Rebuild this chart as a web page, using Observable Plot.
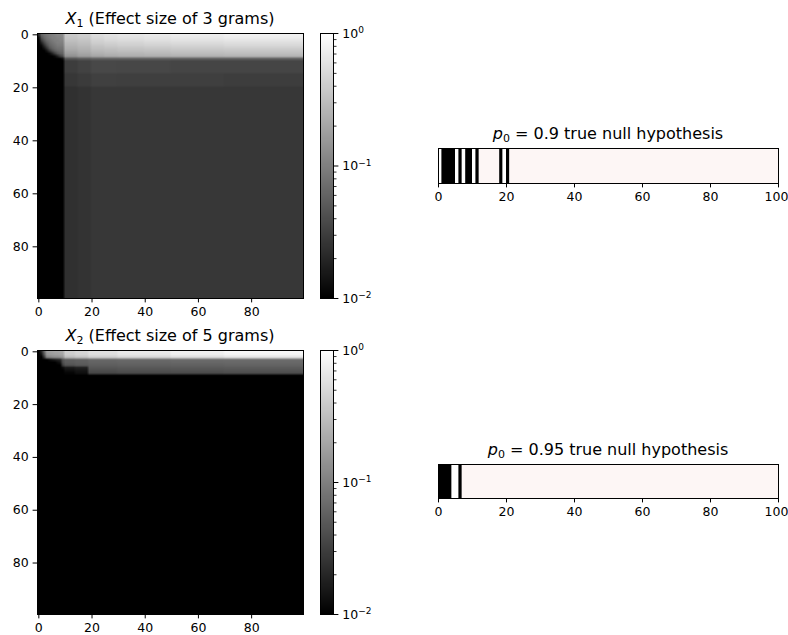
<!DOCTYPE html>
<html><head><meta charset="utf-8">
<script src="https://cdn.jsdelivr.net/npm/d3@7"></script>
<script src="https://cdn.jsdelivr.net/npm/@observablehq/plot@0.6"></script>
<style>
body{margin:0;background:#fff;font-family:"DejaVu Sans",sans-serif;}
#root{position:relative;width:788px;height:635px;overflow:hidden;background:#fff}
.panel{position:absolute}
.panel svg{display:block}
.title{position:absolute;font-size:16px;text-align:center;white-space:nowrap;line-height:16px;color:#000;font-family:"DejaVu Sans",sans-serif}
.title i{font-style:italic}
.title sub{font-size:11px;vertical-align:-3px;line-height:0}
</style></head><body><div id="root"></div>
<script>
// ---------- DATA ----------
const heatTicks = [0, 20, 40, 60, 80];
const stripTicks = [0, 20, 40, 60, 80, 100];
const cbMajor = [0.01, 0.1, 1];
const cbMajorLabels = ["10^\u22122", "10^\u22121", "10^0"];
const cbMinor = [0.02,0.03,0.04,0.05,0.06,0.07,0.08,0.09,0.2,0.3,0.4,0.5,0.6,0.7,0.8,0.9];

// X1 heatmap: row bands x column bands of values (band i spans edges[i]..edges[i+1]-1)
const x1RowEdges = [0,1,2,3,4,5,6,7,8,9,10,15,20,100];
const x1ColEdges = [0,1,2,3,4,5,6,7,8,9,10,15,20,25,30,40,50,70,100];
const x1Values = [
  [0.020,0.060,0.075,0.085,0.095,0.10,0.11,0.12,0.12,0.13, 0.38,0.42,0.55,0.60,0.64,0.68,0.72,0.78],
  [0.012,0.045,0.065,0.080,0.090,0.10,0.10,0.11,0.11,0.12, 0.35,0.39,0.50,0.55,0.59,0.63,0.67,0.72],
  [0.010,0.030,0.050,0.070,0.080,0.09,0.10,0.10,0.11,0.11, 0.32,0.35,0.45,0.50,0.53,0.57,0.60,0.64],
  [0.010,0.018,0.035,0.055,0.070,0.08,0.09,0.10,0.10,0.10, 0.29,0.32,0.41,0.44,0.47,0.50,0.53,0.56],
  [0.010,0.012,0.022,0.040,0.060,0.07,0.08,0.09,0.09,0.09, 0.26,0.29,0.36,0.39,0.42,0.44,0.46,0.49],
  [0.010,0.010,0.014,0.025,0.045,0.06,0.07,0.08,0.08,0.08, 0.23,0.26,0.32,0.34,0.36,0.38,0.40,0.42],
  [0.010,0.010,0.010,0.014,0.025,0.04,0.055,0.065,0.07,0.07, 0.20,0.23,0.28,0.30,0.32,0.33,0.35,0.36],
  [0.010,0.010,0.010,0.010,0.012,0.018,0.030,0.045,0.055,0.06, 0.17,0.20,0.24,0.26,0.27,0.28,0.30,0.31],
  [0.010,0.010,0.010,0.010,0.010,0.010,0.012,0.018,0.030,0.04, 0.14,0.17,0.20,0.22,0.23,0.24,0.25,0.26],
  [0.010,0.010,0.010,0.010,0.010,0.010,0.010,0.010,0.010,0.012, 0.045,0.05,0.055,0.055,0.055,0.055,0.055,0.055],
  [0.010,0.010,0.010,0.010,0.010,0.010,0.010,0.010,0.010,0.010, 0.030,0.033,0.037,0.037,0.036,0.036,0.035,0.035],
  [0.010,0.010,0.010,0.010,0.010,0.010,0.010,0.010,0.010,0.010, 0.027,0.029,0.032,0.032,0.031,0.031,0.031,0.030],
  [0.010,0.010,0.010,0.010,0.010,0.010,0.010,0.010,0.010,0.010, 0.024,0.025,0.027,0.027,0.027,0.027,0.027,0.027]
];

// X2 heatmap
const x2RowEdges = [0,1,2,3,4,5,6,7,8,9,100];
const x2ColEdges = [0,1,2,3,4,5,6,7,8,9,10,14,19,30,50,70,100];
const x2Values = [
  [0.010,0.020,0.060,0.17,0.18,0.19,0.20,0.20,0.21,0.22, 0.42,0.48,0.58,0.68,0.78,0.88],
  [0.010,0.014,0.045,0.15,0.16,0.17,0.18,0.18,0.19,0.20, 0.40,0.45,0.55,0.64,0.73,0.82],
  [0.010,0.010,0.025,0.10,0.11,0.12,0.13,0.13,0.14,0.15, 0.30,0.34,0.42,0.48,0.54,0.60],
  [0.010,0.010,0.010,0.010,0.012,0.014,0.016,0.018,0.020,0.045, 0.055,0.058,0.065,0.068,0.070,0.072],
  [0.010,0.010,0.010,0.010,0.010,0.010,0.010,0.012,0.014,0.040, 0.052,0.055,0.060,0.062,0.064,0.066],
  [0.010,0.010,0.010,0.010,0.010,0.010,0.010,0.010,0.010,0.030, 0.045,0.050,0.055,0.057,0.058,0.060],
  [0.010,0.010,0.010,0.010,0.010,0.010,0.010,0.010,0.010,0.012, 0.016,0.018,0.048,0.050,0.051,0.052],
  [0.010,0.010,0.010,0.010,0.010,0.010,0.010,0.010,0.010,0.010, 0.013,0.015,0.042,0.044,0.045,0.046],
  [0.010,0.010,0.010,0.010,0.010,0.010,0.010,0.010,0.010,0.010, 0.011,0.013,0.036,0.038,0.039,0.040],
  [0.010,0.010,0.010,0.010,0.010,0.010,0.010,0.010,0.010,0.010, 0.010,0.010,0.010,0.010,0.010,0.010]
];

// Hypothesis strips (100 hypotheses): indices of non-null (black) and white cells; rest are null
const stripCount = 100;
const strip1Black = [1,2,3,4,6,8,9,11,18,20];
const strip1White = [0,5,7,10,19];
const strip2Black = [0,1,2,3,6];
const strip2White = [4,5];
const stripClasses = ["non-null", "gap", "null"];
const stripColors = ["#000000", "#ffffff", "#fdf6f5"];

// ---------- DRAW ----------
const root = document.getElementById("root");
const TS = 4.4, TP = 4.4;
const fontStyle = {fontFamily: "DejaVu Sans, sans-serif", fontSize: "12.5px", color: "#000", background: "transparent", overflow: "visible"};
const colorOpts = {type: "log", domain: [0.01, 1], range: ["#000000", "#ffffff"], interpolate: "rgb", clamp: true};

function place(node, left, top) {
  const d = document.createElement("div");
  d.className = "panel"; d.style.left = left + "px"; d.style.top = top + "px";
  d.appendChild(node); root.appendChild(d);
}
function title(html, left, width, top) {
  const d = document.createElement("div");
  d.className = "title"; d.style.left = left + "px"; d.style.width = width + "px"; d.style.top = top + "px";
  d.innerHTML = html; root.appendChild(d);
}
// turn "10^e" tick labels into a base with a raised exponent
function superscripts(svg) {
  svg.querySelectorAll("text").forEach(t => {
    const m = /^10\^(.+)$/.exec(t.textContent);
    if (!m) return;
    t.textContent = "10";
    const ts = document.createElementNS("http://www.w3.org/2000/svg", "tspan");
    ts.setAttribute("dy", "-0.45em");
    ts.setAttribute("font-size", "0.72em");
    ts.textContent = m[1];
    t.appendChild(ts);
  });
  return svg;
}

function expandGrid(rowEdges, colEdges, values) {
  const cells = [];
  values.forEach((row, i) => {
    for (let r = rowEdges[i]; r < rowEdges[i + 1]; ++r)
      row.forEach((v, j) => {
        for (let c = colEdges[j]; c < colEdges[j + 1]; ++c) cells.push({r, c, v});
      });
  });
  return cells;
}

function heatmap(rowEdges, colEdges, values, fh) {
  const cells = expandGrid(rowEdges, colEdges, values);
  return Plot.plot({
    width: 37 + 266 + 5, height: 33 + fh + 22,
    marginLeft: 37, marginRight: 5, marginTop: 33, marginBottom: 22,
    style: fontStyle,
    x: {domain: [-0.5, 99.5], axis: null},
    y: {domain: [-0.5, 99.5], reverse: true, axis: null},
    color: colorOpts,
    marks: [
      Plot.raster(cells, {x: "c", y: "r", fill: "v", width: 100, height: 100, x1: -0.5, x2: 99.5, y1: -0.5, y2: 99.5, imageRendering: "auto"}),
      Plot.frame({stroke: "#000", strokeWidth: 1}),
      Plot.axisX({ticks: heatTicks, tickSize: TS, tickPadding: TP, strokeWidth: 1, label: null, tickFormat: d => String(d)}),
      Plot.axisY({ticks: heatTicks, tickSize: TS, tickPadding: TP, strokeWidth: 1, label: null, tickFormat: d => String(d)})
    ]
  });
}

function colorbar(fh) {
  return superscripts(Plot.plot({
    width: 13 + 50, height: 33 + fh + 22,
    marginLeft: 0, marginRight: 50, marginTop: 33, marginBottom: 22,
    style: fontStyle,
    x: {domain: [0, 1], axis: null},
    y: {domain: [-2, 0], axis: null},
    color: colorOpts,
    marks: [
      Plot.raster({fill: (x, y) => Math.pow(10, y), x1: 0, x2: 1, y1: -2, y2: 0, pixelSize: 1, imageRendering: "auto"}),
      Plot.frame({stroke: "#000", strokeWidth: 1}),
      Plot.axisY({anchor: "right", ticks: cbMajor.map(Math.log10), tickSize: TS, tickPadding: TP, strokeWidth: 1, label: null,
        tickFormat: d => cbMajorLabels[cbMajor.findIndex(m => Math.abs(Math.log10(m) - d) < 1e-9)]}),
      Plot.axisY({anchor: "right", ticks: cbMinor.map(Math.log10), tickSize: 2.5, strokeWidth: 0.8, label: null, tickFormat: () => ""})
    ]
  }));
}

function strip(blackIdx, whiteIdx, fh) {
  const cls = d3.range(stripCount).map(i =>
    blackIdx.includes(i) ? stripClasses[0] : whiteIdx.includes(i) ? stripClasses[1] : stripClasses[2]);
  // merge consecutive equal cells into runs
  const runs = [];
  cls.forEach((k, i) => {
    const last = runs[runs.length - 1];
    if (last && last.cls === k) last.x2 = i + 1; else runs.push({x1: i, x2: i + 1, cls: k});
  });
  const svg = Plot.plot({
    width: 10 + 340 + 10, height: 5 + fh + 25,
    marginLeft: 10, marginRight: 10, marginTop: 5, marginBottom: 25,
    style: fontStyle,
    x: {domain: [0, stripCount], axis: null},
    y: {domain: [0, 1], axis: null},
    color: {type: "ordinal", domain: stripClasses, range: stripColors},
    marks: [
      Plot.rect(runs, {x1: "x1", x2: "x2", y1: 0, y2: 1, fill: "cls"}),
      Plot.frame({stroke: "#000", strokeWidth: 1}),
      Plot.axisX({ticks: stripTicks, tickSize: TS, tickPadding: TP, strokeWidth: 1, label: null, tickFormat: d => String(d)})
    ]
  });
  // keep the last tick label inside the page edge, as in the reference
  svg.querySelectorAll("text").forEach(t => { if (t.textContent === String(stripCount)) t.setAttribute("dx", "-2"); });
  return svg;
}

place(heatmap(x1RowEdges, x1ColEdges, x1Values, 265), 0.3, 0.3);
place(colorbar(265), 320, 0.3);
place(heatmap(x2RowEdges, x2ColEdges, x2Values, 264), 0.3, 317);
place(colorbar(264), 320, 317);
place(strip(strip1Black, strip1White, 35), 427.7, 143.3);
place(strip(strip2Black, strip2White, 34), 427.7, 459.3);

title('<i>X</i><sub>1</sub> (Effect size of 3 grams)', 37, 266, 11.3);
title('<i>X</i><sub>2</sub> (Effect size of 5 grams)', 37, 266, 328);
title('<i>p</i><sub>0</sub> = 0.9 true null hypothesis', 438, 340, 126.3);
title('<i>p</i><sub>0</sub> = 0.95 true null hypothesis', 438, 340, 442.3);
</script></body></html>
